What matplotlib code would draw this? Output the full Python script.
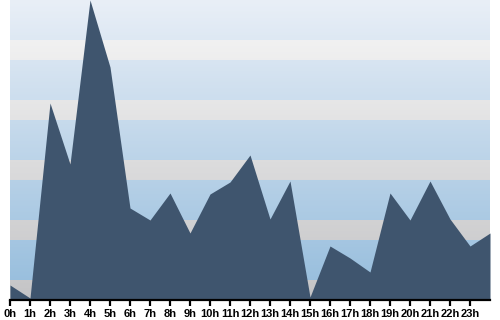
import numpy as np
import matplotlib.pyplot as plt

hours = list(range(25))
values = [15, 2, 197, 136, 300, 233, 92, 80, 107, 67, 106, 118, 145, 81, 119,
          3, 54, 42, 28, 107, 80, 119, 81, 54, 67]
tick_labels = [f"{h}h" for h in range(24)]

fig = plt.figure(figsize=(5, 3.2), dpi=100)
ax = fig.add_axes([0.02, 0.0625, 0.96, 0.9375])

# striped background: blue bands with grey separators, both darkening downward
ymax = 300
rows = np.arange(ymax)[::-1] + 0.5          # value at each image row, top first
t = 1 - rows / ymax                          # 0 at top, 1 at bottom
blue_top, blue_bot = np.array([0xe9, 0xef, 0xf7]), np.array([0x94, 0xbc, 0xdc])
grey_top, grey_bot = np.array([0xf8, 0xf8, 0xf8]), np.array([0xc4, 0xc4, 0xc6])
is_grey = (rows % 60) < 20
img = np.where(is_grey[:, None],
               grey_top + (grey_bot - grey_top) * t[:, None],
               blue_top + (blue_bot - blue_top) * t[:, None]) / 255
ax.imshow(img[:, None, :], extent=(0, 24, 0, ymax), aspect='auto', zorder=0)

ax.fill_between(hours, values, 0, color='#3f556e', lw=0, zorder=2)

ax.set_xlim(0, 24)
ax.set_ylim(0, ymax)
ax.set_xticks(range(24))
ax.set_xticklabels(tick_labels, fontsize=8, fontweight='bold',
                   family=['Liberation Sans Narrow', 'Liberation Sans'])
ax.set_yticks([])
for s in ['top', 'left', 'right']:
    ax.spines[s].set_visible(False)
ax.spines['bottom'].set_linewidth(1.6)
ax.spines['bottom'].set_zorder(3)
ax.tick_params(axis='x', length=4, width=1.6, pad=2.5)

fig.savefig("out.png", dpi=100)
